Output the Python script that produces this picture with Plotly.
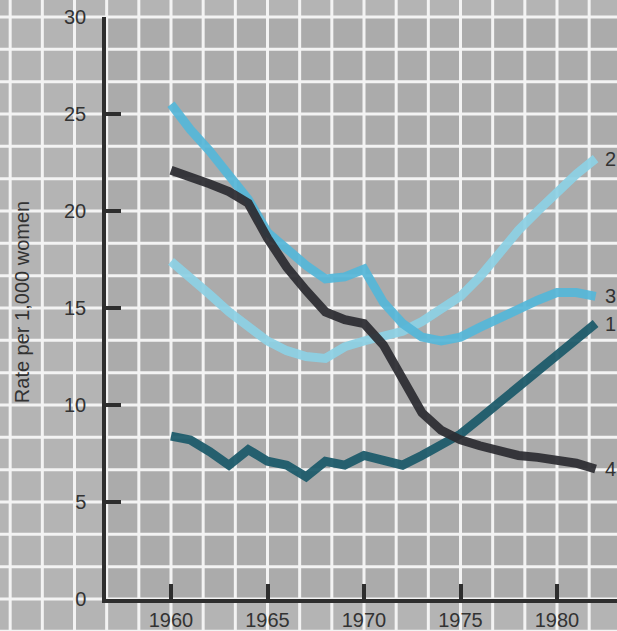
import plotly.graph_objects as go

years = list(range(1960, 1983))
series_1 = [8.4, 8.2, 7.6, 6.9, 7.7, 7.1, 6.9, 6.3, 7.1, 6.9, 7.4, 7.1, 6.9, 7.4, 7.9, 8.5, 9.3, 10.1, 11.0, 11.7, 12.5, 13.4, 14.2]
series_2 = [17.4, 16.6, 15.7, 14.8, 14.0, 13.3, 12.8, 12.5, 12.4, 13.0, 13.3, 13.5, 13.8, 14.3, 14.9, 15.6, 16.6, 17.8, 19.0, 20.0, 21.0, 21.9, 22.7]
series_3 = [25.5, 24.2, 23.1, 21.9, 20.6, 18.9, 18.0, 17.2, 16.5, 16.6, 17.0, 15.3, 14.2, 13.5, 13.3, 13.5, 14.0, 14.5, 14.9, 15.4, 15.8, 15.8, 15.6]
series_4 = [22.1, 21.8, 21.4, 21.0, 20.4, 18.6, 17.1, 15.9, 14.8, 14.4, 14.2, 13.1, 11.3, 9.6, 8.7, 8.2, 7.9, 7.6, 7.4, 7.3, 7.2, 7.0, 6.7]
series_labels = ["1", "2", "3", "4"]
x_ticks = [1960, 1965, 1970, 1975, 1980]
y_ticks = [0, 5, 10, 15, 20, 25, 30]
y_title = "Rate per 1,000 women"

W, H = 617, 631
FONT = "Liberation Sans, Arial, sans-serif"
TXT = "#333333"

x_dom = [106 / W, 1.0]
y_dom = [32 / H, 614 / H]
x_rng = [1960 - 65 / 19.3, 1960 + 446 / 19.3]
y_rng = [0, 30]


def xp(v):
    return x_dom[0] + (v - x_rng[0]) / (x_rng[1] - x_rng[0]) * (x_dom[1] - x_dom[0])


def yp(v):
    return y_dom[0] + (v - y_rng[0]) / (y_rng[1] - y_rng[0]) * (y_dom[1] - y_dom[0])


fig = go.Figure()

styles = [
    ("#1b5a6a", series_1),
    ("#8dd1e5", series_2),
    ("#56b7d9", series_3),
    ("#2d2d32", series_4),
]
order = [1, 2, 0, 3]
for i in order:
    color, vals = styles[i]
    fig.add_trace(go.Scatter(
        x=years, y=vals, mode="lines",
        line=dict(color=color, width=9),
        opacity=0.93, showlegend=False, hoverinfo="skip",
    ))

# series end labels
for lab, (color, vals) in zip(series_labels, styles):
    fig.add_annotation(
        x=years[-1], y=vals[-1], xref="x", yref="y", text=lab,
        showarrow=False, xanchor="left", xshift=7,
        font=dict(family=FONT, size=20, color=TXT),
    )

# background white grid (outside the plot area), drawn below the plot background
shapes = []
step = 5 / 3
for k in range(-8, 16):
    v = 1960 + k * step
    shapes.append(dict(type="line", xref="paper", yref="paper", layer="below",
                       x0=xp(v), x1=xp(v), y0=-0.1, y1=1.1,
                       line=dict(color="#f3f3f3", width=3)))
for k in range(-3, 21):
    v = k * step
    shapes.append(dict(type="line", xref="paper", yref="paper", layer="below",
                       x0=-0.1, x1=1.1, y0=yp(v), y1=yp(v),
                       line=dict(color="#f3f3f3", width=3)))

fig.add_annotation(
    x=22 / W, y=yp(15.3), xref="paper", yref="paper", text=y_title,
    textangle=-90, showarrow=False, xanchor="center", yanchor="middle",
    font=dict(family=FONT, size=20, color=TXT),
)

fig.update_layout(
    template="none",
    width=W, height=H,
    margin=dict(l=0, r=0, t=0, b=0, autoexpand=False),
    paper_bgcolor="#b4b4b4",
    plot_bgcolor="#ababab",
    shapes=shapes,
    xaxis=dict(
        domain=x_dom, range=x_rng, tickvals=x_ticks,
        ticktext=[str(t) for t in x_ticks], automargin=False,
        showgrid=False, zeroline=False,
        showline=True, linecolor="#2e2e2e", linewidth=3.5,
        ticks="inside", ticklen=15, tickwidth=3.5, tickcolor="#2e2e2e",
        ticklabelstandoff=0,
        tickfont=dict(family=FONT, size=20, color=TXT),
    ),
    yaxis=dict(
        domain=y_dom, range=y_rng, tickvals=y_ticks,
        ticktext=[str(t) for t in y_ticks], automargin=False,
        showgrid=False, zeroline=False,
        showline=True, linecolor="#2e2e2e", linewidth=3.5,
        ticks="inside", ticklen=15, tickwidth=3.5, tickcolor="#2e2e2e",
        ticklabelstandoff=12,
        tickfont=dict(family=FONT, size=20, color=TXT),
    ),
)

fig.write_html(
    "out.html",
    config={"displayModeBar": False},
    post_script="document.body.style.margin='0';document.body.style.overflow='hidden';",
)
